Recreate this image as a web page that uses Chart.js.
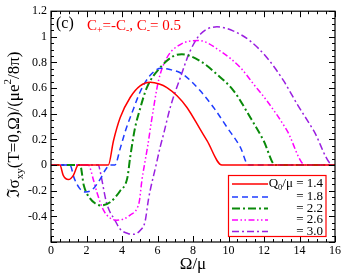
<!DOCTYPE html>
<html>
<head>
<meta charset="utf-8">
<script src="https://cdn.jsdelivr.net/npm/chart.js@4.4.0/dist/chart.umd.min.js"></script>
<style>
  html, body { margin: 0; padding: 0; background: #fff; }
</style>
</head>
<body>
<canvas id="chart" width="346" height="277"></canvas>
<script>
// values, Omega/mu and Im sigma_xy
var omega14 = [0, 0.5, 0.69, 0.98, 1.26, 1.54, 3.23, 3.52, 3.9, 4.46, 5.02, 5.59, 6.1, 6.53, 7.1, 7.66, 8.4, 8.79, 9.63, 16];
var sigma14 = [0, 0, -0.08, -0.113, -0.08, 0, 0, 0.19, 0.371, 0.527, 0.617, 0.645, 0.632, 0.604, 0.54, 0.449, 0.28, 0.19, 0, 0];

var omega18 = [0, 1.07, 1.3, 1.6, 1.92, 2.3, 2.77, 3.05, 3.33, 3.6, 3.9, 4.2, 4.65, 5.02, 5.59, 6.2, 6.7, 7.28, 7.85, 8.41, 9.16, 9.92, 10.67, 11.13, 16];
var sigma18 = [0, 0, -0.1, -0.18, -0.21, -0.195, -0.11, -0.04, 0, 0, 0.13, 0.27, 0.44, 0.57, 0.7, 0.755, 0.745, 0.72, 0.66, 0.579, 0.449, 0.294, 0.138, 0, 0];

var omega22 = [0, 1.64, 1.85, 2.2, 2.5, 2.8, 3.33, 3.9, 4.3, 4.46, 4.72, 5.02, 5.4, 6.15, 6.9, 7.37, 8.41, 9.35, 10.29, 11.23, 11.98, 12.64, 16];
var sigma22 = [0, 0, -0.16, -0.26, -0.3, -0.315, -0.29, -0.2, -0.1, 0.06, 0.28, 0.44, 0.604, 0.76, 0.85, 0.864, 0.81, 0.708, 0.579, 0.371, 0.19, 0, 0];

var omega26 = [0, 2.1, 2.4, 2.58, 2.95, 3.3, 3.7, 4.1, 4.46, 4.84, 4.98, 5.12, 5.3, 5.45, 5.68, 6.06, 6.53, 7.28, 8.31, 9.54, 10.67, 11.42, 12.17, 13.3, 14.33, 16];
var sigma26 = [0, 0, -0.12, -0.21, -0.35, -0.41, -0.43, -0.42, -0.39, -0.34, -0.28, -0.12, 0.03, 0.15, 0.36, 0.66, 0.837, 0.94, 0.972, 0.889, 0.76, 0.63, 0.5, 0.268, 0, 0];

var omega30 = [0, 2.67, 2.77, 3.14, 3.6, 3.9, 4.36, 4.65, 5.02, 5.3, 5.5, 5.92, 6.15, 6.34, 6.72, 7.28, 7.84, 8.41, 9.35, 10.29, 11.23, 12.17, 13.11, 13.87, 14.8, 15.9, 16];
var sigma30 = [0, 0, -0.05, -0.3, -0.43, -0.5, -0.535, -0.54, -0.51, -0.44, -0.26, 0, 0.14, 0.24, 0.45, 0.68, 0.89, 1.02, 1.078, 1.045, 0.967, 0.837, 0.656, 0.475, 0.268, 0, 0];

var legendLabels = ['= 1.4', '= 1.8', '= 2.2', '= 2.6', '= 3.0'];
var xTicks = [0, 16, 2];      // min, max, step
var yTicks = [-0.6, 1.2, 0.2];

var SERIF = '"Liberation Serif", "DejaVu Serif", serif';

var colors = ['#ff0000', '#1f3cff', '#0a8a0a', '#ff00ff', '#9a1fe0'];
var dashes = [[], [6, 4], [8, 3, 2, 3], [6, 2.5, 1.5, 2.5, 1.5, 2.5], [7, 3, 2, 3]];
var widths = [1.5, 1.5, 2, 1.5, 1.5];

function points(xs, ys) {
  return xs.map(function (x, i) { return { x: x, y: ys[i] }; });
}

function makeDataset(i, xs, ys) {
  return {
    data: points(xs, ys),
    borderColor: colors[i],
    borderWidth: widths[i],
    borderDash: dashes[i],
    pointRadius: 0,
    fill: false,
    cubicInterpolationMode: 'monotone'
  };
}

// draw text made of normal / sub / sup pieces, returns width
function richText(ctx, parts, x, y, size, draw) {
  var cx = x;
  parts.forEach(function (p) {
    var fs = p[1] === 'n' ? size : size * 0.65;
    var dy = p[1] === 'sub' ? size * 0.3 : (p[1] === 'sup' ? -size * 0.4 : 0);
    ctx.font = fs + 'px ' + SERIF;
    if (draw) ctx.fillText(p[0], cx, y + dy);
    cx += ctx.measureText(p[0]).width;
  });
  return cx - x;
}

var decorPlugin = {
  id: 'decor',
  afterDraw: function (chart) {
    var ctx = chart.ctx;
    var a = chart.chartArea;
    var xs = chart.scales.x, ys = chart.scales.y;
    ctx.save();
    ctx.strokeStyle = '#000';
    ctx.lineWidth = 1.2;
    ctx.strokeRect(a.left, a.top, a.right - a.left, a.bottom - a.top);

    // inward ticks on all four sides
    ctx.lineWidth = 1;
    ctx.beginPath();
    for (var i = 0; i <= 32; i++) {
      var px = Math.round(xs.getPixelForValue(i * 0.5)) + 0.5;
      var len = i % 4 === 0 ? 6 : 3;
      ctx.moveTo(px, a.bottom); ctx.lineTo(px, a.bottom - len);
      ctx.moveTo(px, a.top); ctx.lineTo(px, a.top + len);
    }
    for (var j = 0; j <= 36; j++) {
      var py = Math.round(ys.getPixelForValue(-0.6 + j * 0.05)) + 0.5;
      var ln = j % 4 === 0 ? 6 : 3;
      ctx.moveTo(a.left, py); ctx.lineTo(a.left + ln, py);
      ctx.moveTo(a.right, py); ctx.lineTo(a.right - ln, py);
    }
    ctx.stroke();

    // panel label and parameters
    ctx.fillStyle = '#000';
    ctx.textBaseline = 'middle';
    ctx.textAlign = 'left';
    ctx.font = '16px ' + SERIF;
    ctx.fillText('(c)', 56, 24);
    ctx.fillStyle = '#ff0000';
    richText(ctx, [['C', 'n'], ['+', 'sub'], ['=-C', 'n'], ['-', 'sub'], [', C', 'n'], ['-', 'sub'], ['= 0.5', 'n']], 87, 26, 15, true);

    // axis titles
    ctx.fillStyle = '#000';
    ctx.font = '17px ' + SERIF;
    ctx.textAlign = 'center';
    ctx.fillText('Ω/μ', (a.left + a.right) / 2, 265);

    var yParts = [['ℑσ', 'n'], ['xy', 'sub'], ['(T=0,Ω)/(μe', 'n'], ['2', 'sup'], ['/8π)', 'n']];
    ctx.textAlign = 'left';
    var w = richText(ctx, yParts, 0, 0, 17, false);
    ctx.save();
    ctx.translate(15, 125);
    ctx.rotate(-Math.PI / 2);
    richText(ctx, yParts, -w / 2, 0, 17, true);
    ctx.restore();

    // legend box
    ctx.strokeStyle = '#ff0000';
    ctx.lineWidth = 1.2;
    ctx.strokeRect(228.5, 175.5, 97.5, 61);
    var rows = [184, 197, 208.5, 220, 231.5];
    for (var k = 0; k < 5; k++) {
      ctx.strokeStyle = colors[k];
      ctx.lineWidth = widths[k];
      ctx.setLineDash(dashes[k]);
      ctx.beginPath();
      ctx.moveTo(232, rows[k]);
      ctx.lineTo(268, rows[k]);
      ctx.stroke();
    }
    ctx.setLineDash([]);
    ctx.fillStyle = '#000';
    ctx.textAlign = 'right';
    ctx.font = '13px ' + SERIF;
    for (var m = 1; m < 5; m++) {
      ctx.fillText(legendLabels[m], 323, rows[m]);
    }
    var qParts = [['Q', 'n'], ['0', 'sub'], ['/μ ' + legendLabels[0], 'n']];
    ctx.textAlign = 'left';
    var qw = richText(ctx, qParts, 0, 0, 13, false);
    richText(ctx, qParts, 323 - qw, rows[0], 13, true);
    ctx.restore();
  }
};

var chart = new Chart(document.getElementById('chart').getContext('2d'), {
  type: 'line',
  data: {
    datasets: [
      makeDataset(0, omega14, sigma14),
      makeDataset(1, omega18, sigma18),
      makeDataset(2, omega22, sigma22),
      makeDataset(3, omega26, sigma26),
      makeDataset(4, omega30, sigma30)
    ]
  },
  options: {
    responsive: false,
    animation: false,
    layout: { padding: { top: 10, right: 11, left: 0, bottom: 0 } },
    plugins: { legend: { display: false }, tooltip: { enabled: false } },
    scales: {
      x: {
        type: 'linear',
        min: xTicks[0],
        max: xTicks[1],
        ticks: { stepSize: xTicks[2], color: '#000', font: { family: SERIF, size: 12 }, padding: 2, maxRotation: 0 },
        grid: { display: false, drawTicks: false },
        border: { display: false },
        afterFit: function (s) { s.height = 35; }
      },
      y: {
        min: yTicks[0],
        max: yTicks[1],
        ticks: {
          stepSize: yTicks[2],
          color: '#000',
          font: { family: SERIF, size: 12 },
          padding: 4,
          callback: function (v) {
            if (v < -0.55) return '';
            if (Math.abs(v) < 1e-9) return '0';
            return (Math.round(v * 10) / 10).toString();
          }
        },
        grid: { display: false, drawTicks: false },
        border: { display: false },
        afterFit: function (s) { s.width = 51; }
      }
    }
  },
  plugins: [decorPlugin]
});
</script>
</body>
</html>
